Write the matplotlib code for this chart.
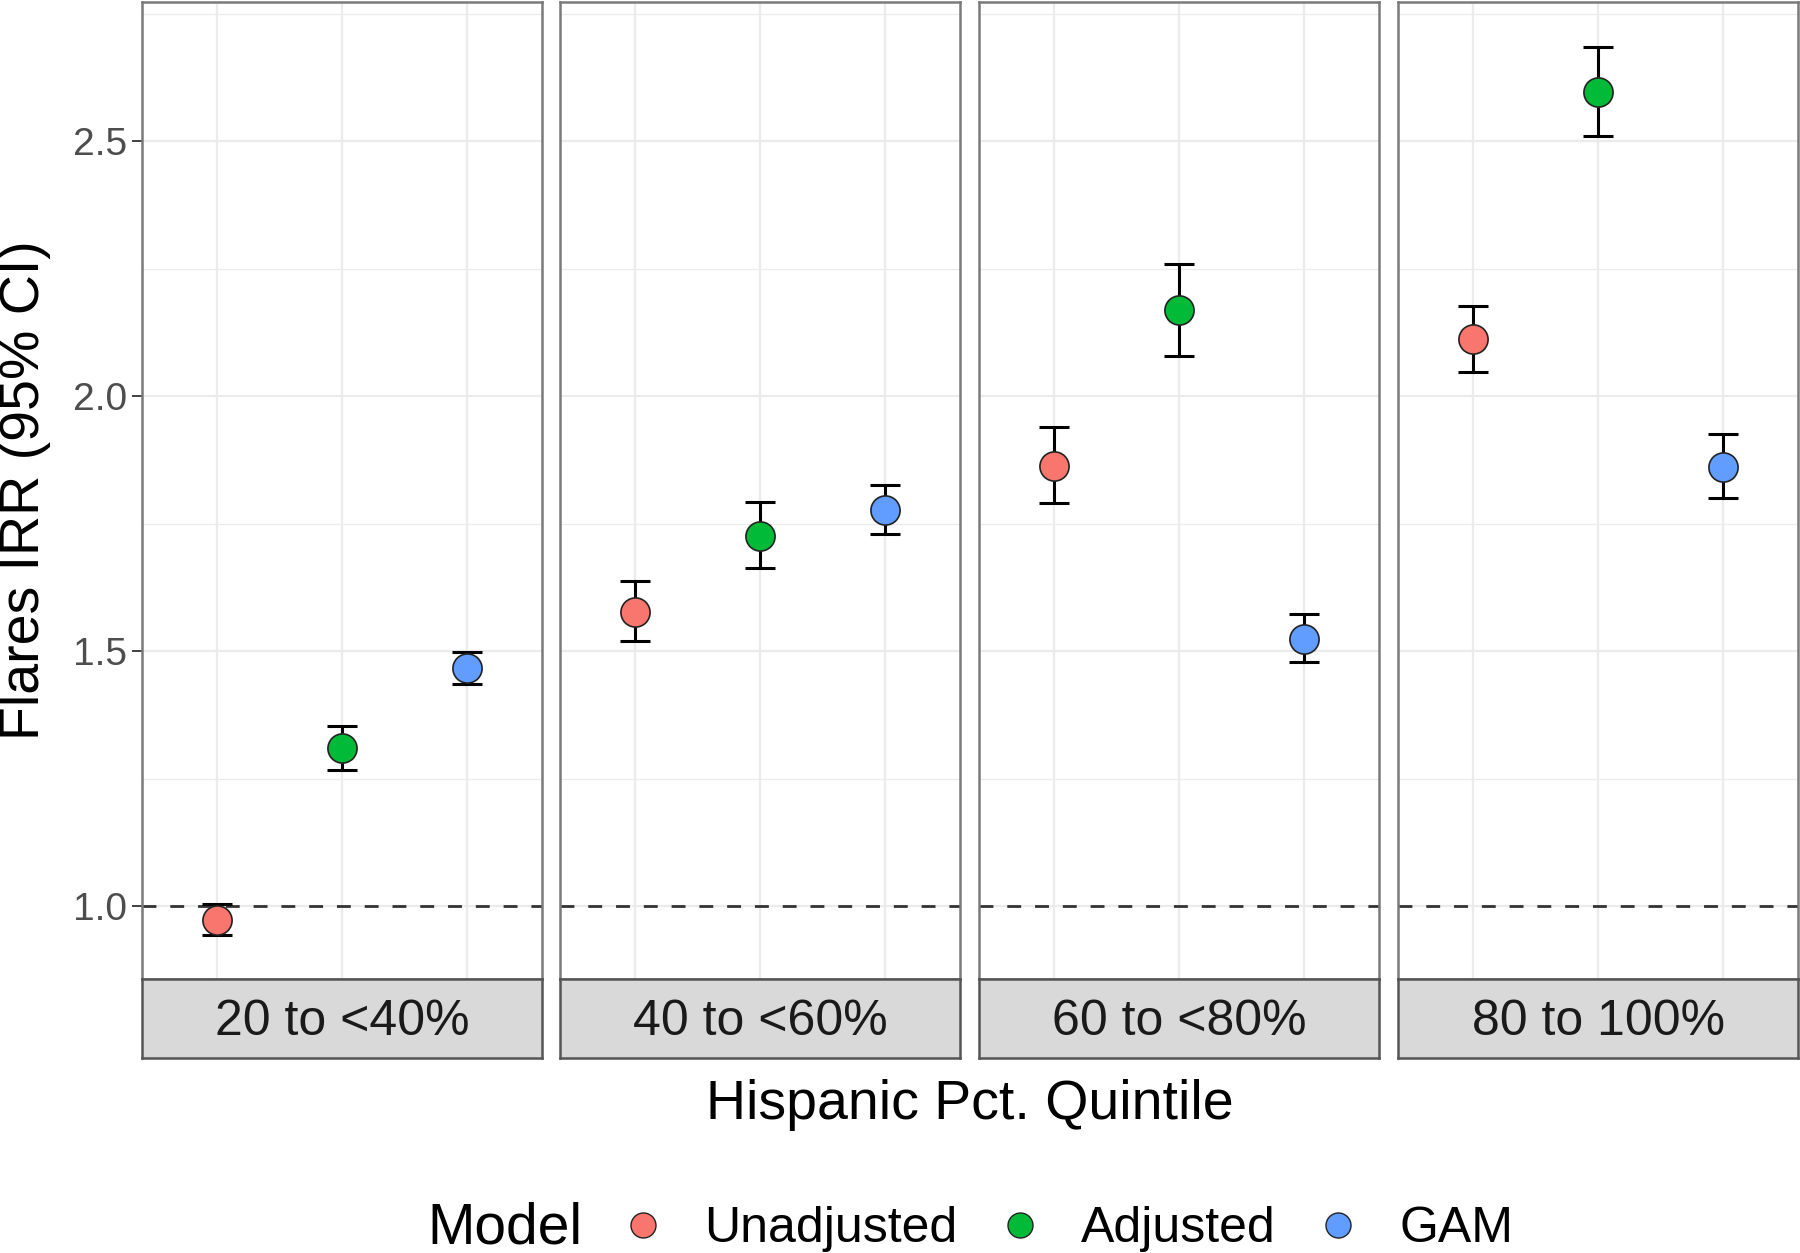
import numpy as np
import matplotlib
matplotlib.use("Agg")
import matplotlib.pyplot as plt
from matplotlib.lines import Line2D

plt.rcParams['font.family'] = ['Liberation Sans', 'DejaVu Sans']

quintiles = ["20 to <40%", "40 to <60%", "60 to <80%", "80 to 100%"]
models = ["Unadjusted", "Adjusted", "GAM"]
colors = ["#F8766D", "#00BA38", "#619CFF"]

# IRR and 95% CI per model, one value per quintile
irr_unadj = [0.973, 1.577, 1.863, 2.112]
lo_unadj = [0.944, 1.519, 1.790, 2.048]
hi_unadj = [1.004, 1.637, 1.940, 2.177]

irr_adj = [1.310, 1.725, 2.168, 2.597]
lo_adj = [1.267, 1.663, 2.079, 2.510]
hi_adj = [1.354, 1.793, 2.260, 2.685]

irr_gam = [1.466, 1.776, 1.524, 1.862]
lo_gam = [1.435, 1.729, 1.479, 1.800]
hi_gam = [1.498, 1.825, 1.573, 1.926]

irr = [irr_unadj, irr_adj, irr_gam]
lo = [lo_unadj, lo_adj, lo_gam]
hi = [hi_unadj, hi_adj, hi_gam]

W, H = 1800, 1253
fig = plt.figure(figsize=(W / 100, H / 100), dpi=100)

lefts = [142, 560, 979, 1398]
pw = 400
top, bot, strip_bot = 2, 979, 1058
ylim = (0.857, 2.773)

for q, qname in enumerate(quintiles):
    ax = fig.add_axes([lefts[q] / W, 1 - bot / H, pw / W, (bot - top) / H])
    ax.set_xlim(0.4, 3.6)
    ax.set_ylim(*ylim)
    ax.set_yticks([1.0, 1.5, 2.0, 2.5])
    ax.set_yticks([1.25, 1.75, 2.25, 2.75], minor=True)
    ax.set_xticks([1, 2, 3])
    ax.grid(True, which='major', color='#EBEBEB', lw=1.6)
    ax.grid(True, which='minor', axis='y', color='#EBEBEB', lw=0.9)
    ax.set_axisbelow(True)
    ax.tick_params(axis='x', which='both', length=0, labelbottom=False)
    ax.tick_params(axis='y', which='minor', length=0)
    if q == 0:
        ax.tick_params(axis='y', which='major', length=7, width=1.3, color='#333333',
                       labelsize=28, labelcolor='#4D4D4D', pad=4)
        ax.set_yticklabels(["1.0", "1.5", "2.0", "2.5"])
    else:
        ax.tick_params(axis='y', which='major', length=0, labelleft=False)
    for s in ax.spines.values():
        s.set_color('#7A7A7A')
        s.set_linewidth(1.8)

    ax.axhline(1.0, color='#333333', lw=2.0, ls=(0, (5, 5)), zorder=2)

    for m in range(3):
        y = irr[m][q]
        ax.errorbar(m + 1, y, yerr=[[y - lo[m][q]], [hi[m][q] - y]], fmt='none',
                    ecolor='black', elinewidth=2.2, capsize=11, capthick=2.2, zorder=3)
        ax.plot(m + 1, y, 'o', ms=21, mfc=colors[m], mec='#222222', mew=1.2, zorder=4)

    # facet strip at the bottom
    sax = fig.add_axes([lefts[q] / W, 1 - strip_bot / H, pw / W, (strip_bot - bot) / H])
    sax.set_xticks([])
    sax.set_yticks([])
    sax.set_facecolor('#D9D9D9')
    for s in sax.spines.values():
        s.set_color('#555555')
        s.set_linewidth(1.8)
    sax.text(0.5, 0.46, qname, ha='center', va='center', fontsize=36, color='#1A1A1A',
             transform=sax.transAxes)

fig.text(25 / W, 1 - 490 / H, "Flares IRR (95% CI)", rotation=90, ha='center', va='center',
         fontsize=40)
fig.text(970 / W, 1 - 1105 / H, "Hispanic Pct. Quintile", ha='center', va='center', fontsize=40)

# legend
fig.text(427 / W, 1 - 1228 / H, "Model", ha='left', va='center', fontsize=41)
handles = [Line2D([], [], ls='none', marker='o', ms=18, mfc=c, mec='#222222', mew=1.0)
           for c in colors]
fig.legend(handles, models, loc='center left', bbox_to_anchor=(618 / W, 1 - 1229 / H),
           ncol=3, frameon=False, fontsize=36, handlelength=1.0, handletextpad=0.72,
           columnspacing=0.75, borderpad=0, borderaxespad=0)

fig.savefig("out.png", dpi=100)
